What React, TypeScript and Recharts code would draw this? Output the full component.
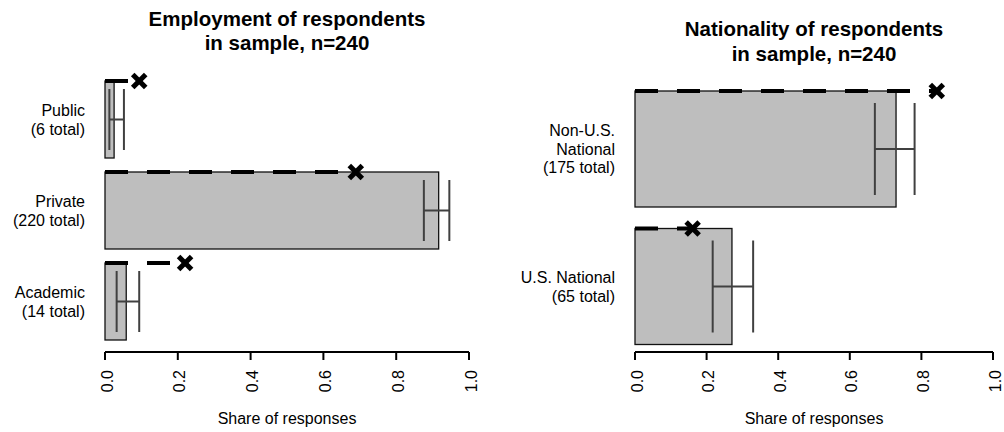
import React from 'react';
import { BarChart, Bar, XAxis, YAxis, ErrorBar } from 'recharts';

const FONT = '"Liberation Sans", Arial, sans-serif';
const TOTAL = 240;

// Employment panel
const empCategories = ['Public', 'Private', 'Academic'];
const empLabelLines = [['Public', '(6 total)'], ['Private', '(220 total)'], ['Academic', '(14 total)']];
const empCounts = [6, 220, 14];
const empCiLow = [0.012, 0.876, 0.032];
const empCiHigh = [0.052, 0.946, 0.094];
const empMarker = [0.094, 0.689, 0.22];

// Nationality panel
const natCategories = ['Non-U.S. National', 'U.S. National'];
const natLabelLines = [['Non-U.S.', 'National', '(175 total)'], ['U.S. National', '(65 total)']];
const natCounts = [175, 65];
const natCiLow = [0.67, 0.217];
const natCiHigh = [0.781, 0.33];
const natMarker = [0.843, 0.161];

// Axis
const xTicks = [0, 0.2, 0.4, 0.6, 0.8, 1.0];
const xTickLabels = ['0.0', '0.2', '0.4', '0.6', '0.8', '1.0'];
const axisTitle = 'Share of responses';

function buildRows(cats: string[], lines: string[][], counts: number[], lo: number[], hi: number[], marker: number[]) {
  return cats.map((c, i) => {
    const share = counts[i] / TOTAL;
    return { cat: c, lines: lines[i], share, err: [share - lo[i], hi[i] - share], marker: marker[i] };
  });
}

const empRows = buildRows(empCategories, empLabelLines, empCounts, empCiLow, empCiHigh, empMarker);
const natRows = buildRows(natCategories, natLabelLines, natCounts, natCiLow, natCiHigh, natMarker);

const BarShape = (props: any) => {
  const { x, y, width, height, payload } = props;
  const mx = x + width * (payload.marker / payload.share);
  const a = 6.5;
  return (
    <g>
      <rect x={x} y={y} width={width} height={height} fill="#bebebe" stroke="#111" strokeWidth={1.3} />
      <line x1={x} y1={y} x2={mx} y2={y} stroke="#000" strokeWidth={4} strokeDasharray="23 19" />
      <line x1={mx - a} y1={y - a} x2={mx + a} y2={y + a} stroke="#000" strokeWidth={5} />
      <line x1={mx - a} y1={y + a} x2={mx + a} y2={y - a} stroke="#000" strokeWidth={5} />
    </g>
  );
};

const makeCatTick = (rows: any[]) => (props: any) => {
  const { x, y, payload } = props;
  const row = rows.find((r) => r.cat === payload.value);
  const lines: string[] = row ? row.lines : [String(payload.value)];
  const n = lines.length;
  const lh = 18.5;
  return (
    <text x={x} y={y} textAnchor="end" fontSize={16} fontFamily={FONT} fill="#000">
      {lines.map((l, i) => (
        <tspan key={i} x={x} y={y + (i - (n - 1) / 2) * lh + 6}>
          {l}
        </tspan>
      ))}
    </text>
  );
};

const XTick = (props: any) => {
  const { x, payload } = props;
  const idx = xTicks.indexOf(payload.value);
  const label = idx >= 0 ? xTickLabels[idx] : String(payload.value);
  const ty = 370;
  const tx = x + 2;
  return (
    <text
      x={tx}
      y={ty}
      transform={`rotate(-90, ${tx}, ${ty})`}
      textAnchor="end"
      dominantBaseline="central"
      fontSize={16}
      fontFamily={FONT}
      fill="#000"
    >
      {label}
    </text>
  );
};

const AxisTitle = (props: any) => {
  const vb = props.viewBox || {};
  return (
    <text x={vb.x + vb.width / 2} y={vb.y + 72} textAnchor="middle" fontSize={16} fontFamily={FONT} fill="#000">
      {axisTitle}
    </text>
  );
};

function Panel(props: {
  rows: any[];
  width: number;
  top: number;
  right: number;
  yWidth: number;
  barSize: number;
  capHalf: number;
  padBottom: number;
}) {
  const { rows, width, top, right, yWidth, barSize, capHalf, padBottom } = props;
  return (
    <BarChart
      width={width}
      height={432}
      layout="vertical"
      data={rows}
      margin={{ top, right, bottom: 0, left: 0 }}
      barSize={barSize}
    >
      <XAxis
        type="number"
        domain={[0, 1]}
        ticks={xTicks}
        height={80}
        axisLine={{ stroke: '#000', strokeWidth: 2 }}
        tickLine={{ stroke: '#000', strokeWidth: 2 }}
        tickSize={8}
        tick={<XTick />}
        interval={0}
        label={<AxisTitle />}
      />
      <YAxis
        type="category"
        dataKey="cat"
        width={yWidth}
        axisLine={false}
        tickLine={false}
        tickSize={0}
        tickMargin={20}
        interval={0}
        padding={{ top: 0, bottom: padBottom }}
        tick={makeCatTick(rows)}
      />
      <Bar dataKey="share" isAnimationActive={false} shape={<BarShape />}>
        <ErrorBar
          dataKey="err"
          direction="x"
          width={capHalf}
          stroke="#404040"
          strokeWidth={2}
          isAnimationActive={false}
        />
      </Bar>
    </BarChart>
  );
}

export default function App() {
  const titleStyle = { fontSize: 20.5, fontWeight: 700, fontFamily: FONT, fill: '#000' } as any;
  return (
    <div style={{ position: 'absolute', left: 0, top: 0, width: 1004, height: 432, background: '#fff' }}>
      <div style={{ position: 'absolute', left: 0, top: 0 }}>
        <Panel rows={empRows} width={500} top={74} right={31} yWidth={105} barSize={77} capHalf={30.5} padBottom={5} />
      </div>
      <div style={{ position: 'absolute', left: 500, top: 0 }}>
        <Panel rows={natRows} width={504} top={80} right={11} yWidth={135} barSize={116} capHalf={46} padBottom={-3} />
      </div>
      <svg style={{ position: 'absolute', left: 0, top: 0, pointerEvents: 'none' }} width={1004} height={70}>
        <text x={287} y={25.7} textAnchor="middle" {...titleStyle}>
          Employment of respondents
        </text>
        <text x={287} y={50} textAnchor="middle" {...titleStyle}>
          in sample, n=240
        </text>
        <text x={814} y={35.7} textAnchor="middle" {...titleStyle}>
          Nationality of respondents
        </text>
        <text x={814} y={60.5} textAnchor="middle" {...titleStyle}>
          in sample, n=240
        </text>
      </svg>
    </div>
  );
}
